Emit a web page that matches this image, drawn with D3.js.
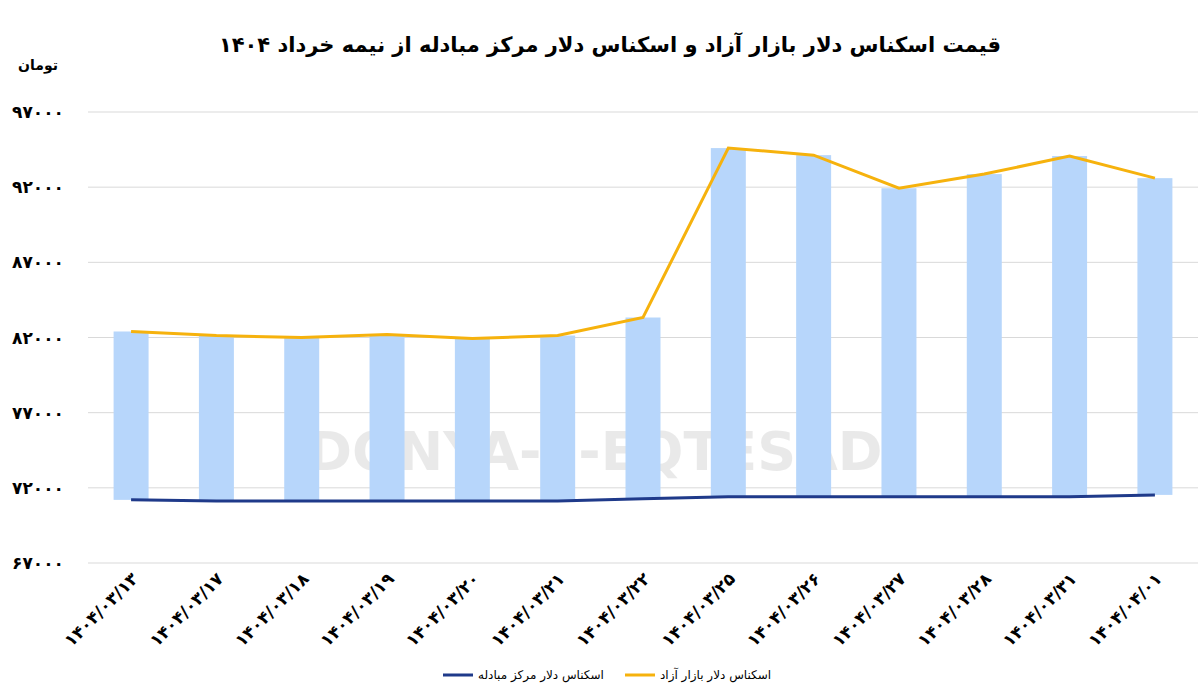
<!DOCTYPE html>
<html><head><meta charset="utf-8">
<script src="https://cdn.jsdelivr.net/npm/d3@7"></script>
<style>body{margin:0;background:#fff}text{font-family:"DejaVu Sans","Noto Sans",sans-serif}</style>
</head><body><svg id="c" width="1200" height="693"></svg>
<script>
const categories=["۱۴۰۴/۰۳/۱۳","۱۴۰۴/۰۳/۱۷","۱۴۰۴/۰۳/۱۸","۱۴۰۴/۰۳/۱۹","۱۴۰۴/۰۳/۲۰","۱۴۰۴/۰۳/۲۱","۱۴۰۴/۰۳/۲۲","۱۴۰۴/۰۳/۲۵","۱۴۰۴/۰۳/۲۶","۱۴۰۴/۰۳/۲۷","۱۴۰۴/۰۳/۲۸","۱۴۰۴/۰۳/۳۱","۱۴۰۴/۰۴/۰۱"];
const freeMarket=[82400,82130,82000,82200,81930,82130,83330,94600,94130,91930,92870,94070,92600];
const exchangeCenter=[71200,71130,71130,71130,71130,71130,71270,71400,71400,71400,71400,71400,71530];
const yTicks=[67000,72000,77000,82000,87000,92000,97000];
const fa=n=>String(n).replace(/\d/g,d=>"۰۱۲۳۴۵۶۷۸۹"[d]);
const svg=d3.select("#c");
const x=d3.scaleBand().domain(categories).range([88,1198]).paddingInner(0.59).paddingOuter(0.3);
const y=d3.scaleLinear().domain([67000,97000]).range([563,112]);
svg.append("text").attr("x",610).attr("y",52).attr("text-anchor","middle").attr("font-size",21).attr("font-weight","bold").attr("direction","rtl").text("قیمت اسکناس دلار بازار آزاد و اسکناس دلار مرکز مبادله از نیمه خرداد ۱۴۰۴");
svg.append("text").attr("x",38).attr("y",70).attr("text-anchor","middle").attr("font-size",14).attr("font-weight","bold").attr("direction","rtl").text("تومان");
const g=svg.append("g");
yTicks.forEach(t=>{
 g.append("line").attr("x1",88).attr("x2",1198).attr("y1",y(t)).attr("y2",y(t)).attr("stroke","#d9d9d9");
 g.append("text").attr("x",38).attr("y",y(t)+6).attr("text-anchor","middle").attr("font-size",17).attr("font-weight","bold").text(fa(t));
});
svg.append("g").attr("opacity",0.12).append("text").attr("x",595).attr("y",470).attr("text-anchor","middle").attr("font-size",54).attr("font-weight","bold").attr("fill","#555").text("DONYA-E-EQTESAD");
svg.selectAll("rect.b").data(categories).join("rect").attr("x",d=>x(d)).attr("width",x.bandwidth())
 .attr("y",(d,i)=>y(freeMarket[i])).attr("height",(d,i)=>y(exchangeCenter[i])-y(freeMarket[i])).attr("fill","#b7d6fb");
const line=d3.line().x((d,i)=>x(categories[i])+x.bandwidth()/2).y(d=>y(d));
svg.append("path").attr("d",line(freeMarket)).attr("fill","none").attr("stroke","#f6b20d").attr("stroke-width",3);
svg.append("path").attr("d",line(exchangeCenter)).attr("fill","none").attr("stroke","#1f3a8a").attr("stroke-width",3);
categories.forEach(c=>{
 const cx=x(c)+x.bandwidth()/2;
 svg.append("text").attr("transform",`translate(${cx+8},${580}) rotate(-45)`).attr("text-anchor","end").attr("direction","ltr").attr("font-size",17).attr("font-weight","bold").text(c);
});
const lg=svg.append("g");
lg.append("line").attr("x1",443).attr("x2",473).attr("y1",675).attr("y2",675).attr("stroke","#1f3a8a").attr("stroke-width",3);
lg.append("text").attr("x",478).attr("y",679).attr("font-size",12).attr("direction","ltr").text("اسکناس دلار مرکز مبادله");
lg.append("line").attr("x1",625).attr("x2",655).attr("y1",675).attr("y2",675).attr("stroke","#f6b20d").attr("stroke-width",3);
lg.append("text").attr("x",660).attr("y",679).attr("font-size",12).attr("direction","ltr").text("اسکناس دلار بازار آزاد");
</script></body></html>
